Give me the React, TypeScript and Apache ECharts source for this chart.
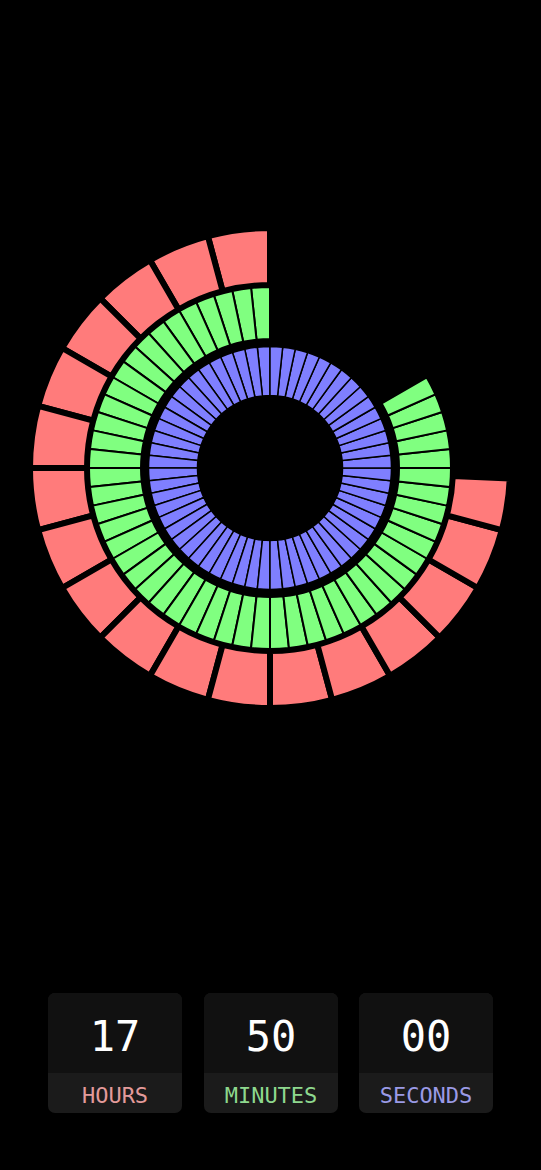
import React, { useEffect, useRef } from "react";
import * as echarts from "echarts";

// Time shown: 17:50:00
// Each ring segment value (1 = a full segment). The hour ring's last segment is partial (50 of 60 minutes).
const hourValues = [1,1,1,1,1,1,1,1,1,1,1,1,1,1,1,1,1,0.8333];
const minuteValues = [1,1,1,1,1,1,1,1,1,1,1,1,1,1,1,1,1,1,1,1,1,1,1,1,1,1,1,1,1,1,1,1,1,1,1,1,1,1,1,1,1,1,1,1,1,1,1,1,1,1];
const secondValues = [1,1,1,1,1,1,1,1,1,1,1,1,1,1,1,1,1,1,1,1,1,1,1,1,1,1,1,1,1,1,1,1,1,1,1,1,1,1,1,1,1,1,1,1,1,1,1,1,1,1,1,1,1,1,1,1,1,1,1,1];
const ringTotals = [24, 60, 60];

// Cards
const cardValues = ["17", "50", "00"];
const cardLabels = ["HOURS", "MINUTES", "SECONDS"];

const RED = "#ff7b7b";
const GREEN = "#80ff80";
const BLUE = "#7f7fff";
const labelColors = ["#e39a9a", "#8ed88e", "#9a9ae6"];

export default function App() {
  const ref = useRef<HTMLDivElement>(null);
  useEffect(() => {
    document.body.style.margin = "0";
    document.body.style.background = "#000";
    const chart = echarts.init(ref.current!, null, { renderer: "svg" });
    const center = [270, 468];
    const rings = [
      { values: hourValues, total: ringTotals[0], radius: [183, 240], color: RED, border: 6 },
      { values: minuteValues, total: ringTotals[1], radius: [129, 181], color: GREEN, border: 2 },
      { values: secondValues, total: ringTotals[2], radius: [72.5, 121.5], color: BLUE, border: 1.5 },
    ];
    const cardX = [48, 204, 359];
    const cardW = 134;
    const cardTop = 993;
    const cardH = 120;
    const topH = 80;
    const graphics: any[] = [];
    cardValues.forEach((v, i) => {
      graphics.push({
        type: "rect",
        shape: { x: cardX[i], y: cardTop, width: cardW, height: cardH, r: 7 },
        style: { fill: "#1b1b1b" },
      });
      graphics.push({
        type: "rect",
        shape: { x: cardX[i], y: cardTop, width: cardW, height: topH, r: [7, 7, 0, 0] },
        style: { fill: "#111111" },
      });
      graphics.push({
        type: "text",
        x: cardX[i] + cardW / 2,
        y: cardTop + 43,
        style: {
          text: v,
          fill: "#ffffff",
          font: '42px "DejaVu Sans Mono", monospace',
          align: "center",
          verticalAlign: "middle",
        },
      });
      graphics.push({
        type: "text",
        x: cardX[i] + cardW / 2,
        y: cardTop + topH + 22,
        style: {
          text: cardLabels[i],
          fill: labelColors[i],
          font: '22px "DejaVu Sans Mono", monospace',
          align: "center",
          verticalAlign: "middle",
        },
      });
    });

    const series = rings.map((r) => {
      const filled = r.values.reduce((a, b) => a + b, 0);
      const data: any[] = r.values.map((v) => ({ value: v }));
      if (r.total - filled > 0.0001) {
        data.push({
          value: r.total - filled,
          itemStyle: { color: "rgba(0,0,0,0)", borderWidth: 0 },
        });
      }
      return {
        type: "pie",
        center,
        radius: r.radius,
        startAngle: 90,
        clockwise: false,
        minAngle: 0,
        avoidLabelOverlap: false,
        silent: true,
        label: { show: false },
        labelLine: { show: false },
        emphasis: { disabled: true },
        itemStyle: { color: r.color, borderColor: "#000", borderWidth: r.border },
        data,
      };
    });

    chart.setOption({
      animation: false,
      backgroundColor: "#000",
      series,
      graphic: graphics,
    });
    return () => chart.dispose();
  }, []);
  return <div ref={ref} style={{ width: 541, height: 1170, background: "#000" }} />;
}
